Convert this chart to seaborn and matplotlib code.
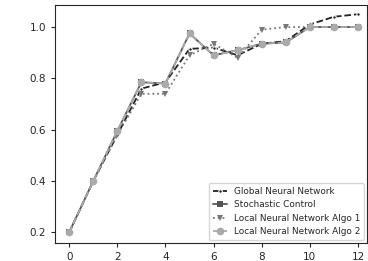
import matplotlib
matplotlib.use("Agg")
import matplotlib.pyplot as plt
import seaborn as sns

sns.set_style("ticks")
plt.rcParams['font.family'] = ['DejaVu Sans']
plt.rcParams['font.size'] = 7.5

# values
steps = list(range(13))
global_nn = [0.20, 0.40, 0.58, 0.76, 0.785, 0.915, 0.92, 0.89, 0.935, 0.945, 1.01, 1.04, 1.05]
stochastic = [0.20, 0.40, 0.595, 0.785, 0.78, 0.975, 0.89, 0.91, 0.935, 0.94, 1.00, 1.00, 1.00]
local_algo1 = [0.20, 0.40, 0.58, 0.74, 0.74, 0.89, 0.935, 0.88, 0.99, 1.00, 1.00, 1.00, 1.00]
local_algo2 = [0.20, 0.40, 0.595, 0.785, 0.78, 0.975, 0.89, 0.91, 0.935, 0.94, 1.00, 1.00, 1.00]

fig, ax = plt.subplots(figsize=(3.68, 2.61), dpi=100)

sns.lineplot(x=steps, y=global_nn, ax=ax, color='#222222', linestyle='--', marker='.',
             markersize=5, linewidth=1.3, label='Global Neural Network')
sns.lineplot(x=steps, y=stochastic, ax=ax, color='#555555', linestyle='-', marker='s',
             markersize=5, linewidth=1.3, markeredgewidth=0, label='Stochastic Control')
sns.lineplot(x=steps, y=local_algo1, ax=ax, color='#777777', linestyle=':', marker='v',
             markersize=5, linewidth=1.3, markeredgewidth=0, label='Local Neural Network Algo 1')
sns.lineplot(x=steps, y=local_algo2, ax=ax, color='#aaaaaa', linestyle='--', marker='o',
             markersize=5.5, linewidth=1.3, markeredgewidth=0, label='Local Neural Network Algo 2')

ax.set_xlim(-0.58, 12.37)
ax.set_ylim(0.16, 1.085)
ax.set_xticks([0, 2, 4, 6, 8, 10, 12])
ax.set_yticks([0.2, 0.4, 0.6, 0.8, 1.0])
ax.tick_params(labelsize=7.5, length=3)
ax.legend(loc='lower right', fontsize=6.4, frameon=True, handlelength=1.6,
          borderpad=0.45, labelspacing=0.5, borderaxespad=0.3)

fig.subplots_adjust(left=0.15, right=0.997, top=0.98, bottom=0.07)
fig.savefig('out.png', dpi=100)
